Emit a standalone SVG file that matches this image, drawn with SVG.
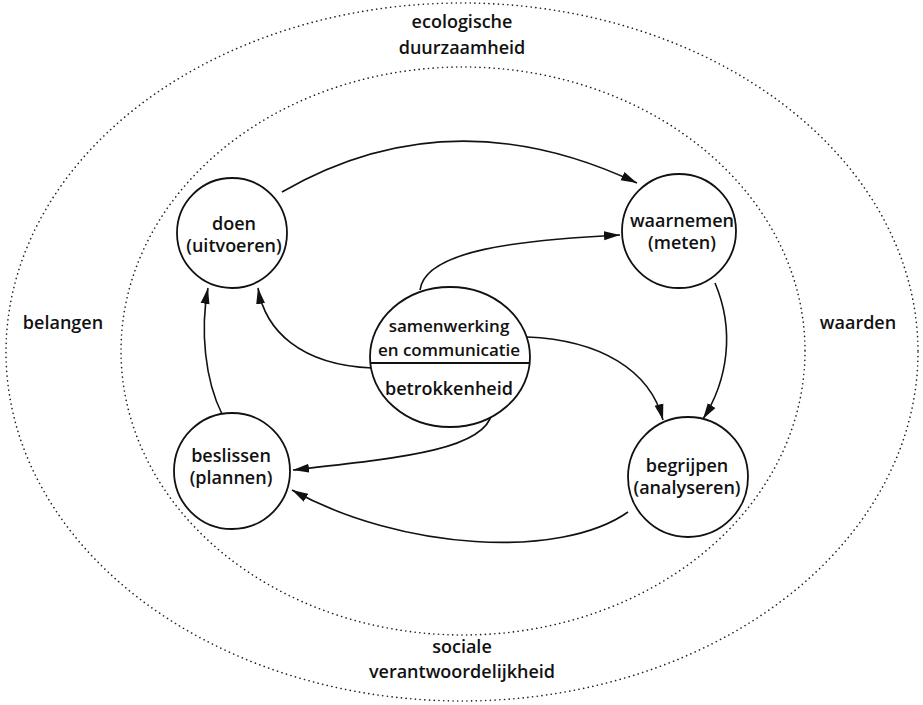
<svg xmlns="http://www.w3.org/2000/svg" width="923" height="705" viewBox="0 0 923 705">
<style>
.dot{fill:none;stroke:#222;stroke-width:1.6;stroke-dasharray:0.1 4.6;stroke-linecap:round}
.node{fill:#fff;stroke:#111;stroke-width:1.8}
.con{fill:none;stroke:#111;stroke-width:1.6}
text{font-family:"Open Sans","Noto Sans",sans-serif;font-weight:600;font-size:18px;fill:#111;text-anchor:middle}
.sm{font-size:17px}
</style>
<defs>
<marker id="ah" markerUnits="userSpaceOnUse" markerWidth="18" markerHeight="10" refX="16" refY="5" orient="auto">
<path d="M0,0.5 L16,5 L0,9.5 Z" fill="#111"/>
</marker>
</defs>
<rect width="923" height="705" fill="#fff"/>
<g id="context">
<ellipse class="dot" cx="462" cy="352" rx="456" ry="349"/>
<ellipse class="dot" cx="463" cy="351" rx="342" ry="284"/>
<text x="462" y="28">ecologische</text>
<text x="462" y="54">duurzaamheid</text>
<text x="462" y="653">sociale</text>
<text x="462" y="678">verantwoordelijkheid</text>
<text x="63" y="329">belangen</text>
<text x="858" y="329">waarden</text>
</g>
<g id="connectors">
<path class="con" d="M282,192 Q450,95 637,183" marker-end="url(#ah)"/>
<path class="con" d="M420,290 C425,250 520,240 620,235" marker-end="url(#ah)"/>
<path class="con" d="M372,368 C300,365 265,330 258,288" marker-end="url(#ah)"/>
<path class="con" d="M222,414 C205,380 200,330 208,288" marker-end="url(#ah)"/>
<path class="con" d="M715,283 C735,330 728,380 703,419" marker-end="url(#ah)"/>
<path class="con" d="M527,337 C600,340 650,370 663,420" marker-end="url(#ah)"/>
<path class="con" d="M492,413 C485,450 400,458 293,470" marker-end="url(#ah)"/>
<path class="con" d="M628,512 C560,560 400,550 292,490" marker-end="url(#ah)"/>
</g>
<g id="doen">
<circle class="node" cx="232" cy="233" r="55"/>
<text x="234" y="230">doen</text>
<text x="234" y="252">(uitvoeren)</text>
</g>
<g id="waarnemen">
<circle class="node" cx="679" cy="231" r="57"/>
<text x="682" y="227">waarnemen</text>
<text x="682" y="249">(meten)</text>
</g>
<g id="samenwerking">
<ellipse class="node" cx="450" cy="357" rx="80" ry="70"/>
<line x1="370" y1="363" x2="530" y2="363" stroke="#111" stroke-width="1.8"/>
<text class="sm" x="449" y="332">samenwerking</text>
<text class="sm" x="449" y="356">en communicatie</text>
<text x="449" y="395">betrokkenheid</text>
</g>
<g id="beslissen">
<circle class="node" cx="232" cy="471" r="58"/>
<text x="231" y="462">beslissen</text>
<text x="231" y="484">(plannen)</text>
</g>
<g id="begrijpen">
<circle class="node" cx="688" cy="477" r="60"/>
<text x="687" y="472">begrijpen</text>
<text x="687" y="494">(analyseren)</text>
</g>
</svg>
